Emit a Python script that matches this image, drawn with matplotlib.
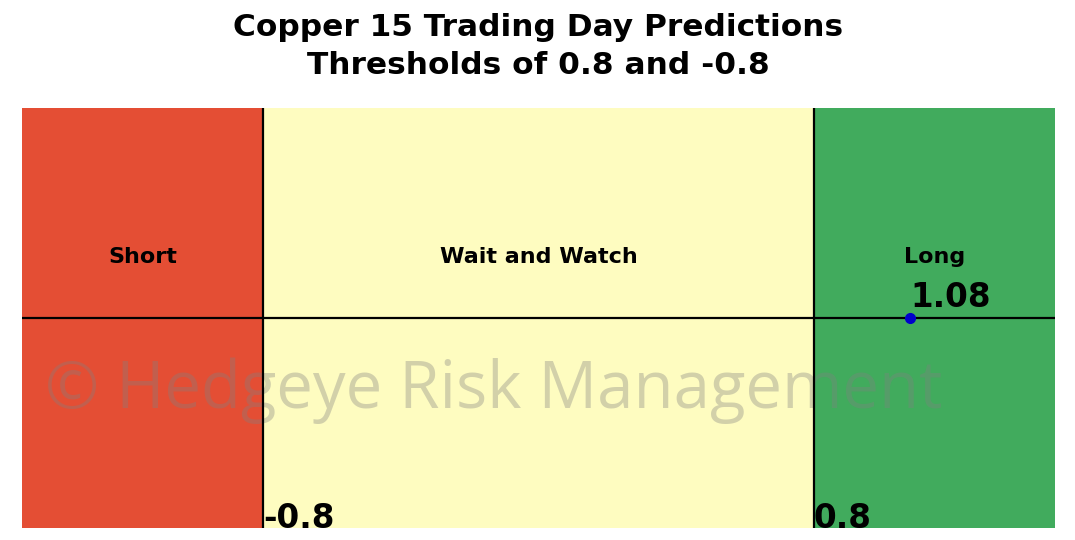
import matplotlib.pyplot as plt

commodity = "Copper"
horizon = 15
prediction = 1.08
lower_threshold = -0.8
upper_threshold = 0.8
x_range = [-1.5, 1.5]
zone_labels = ["Short", "Wait and Watch", "Long"]
zone_colors = ["#E44E34", "#FEFCC0", "#41AB5D"]

fig = plt.figure(figsize=(10.75, 5.4), dpi=100)
ax = fig.add_axes([22 / 1075, 12 / 540, 1033 / 1075, 420 / 540])

edges = [x_range[0], lower_threshold, upper_threshold, x_range[1]]
for i, (label, color) in enumerate(zip(zone_labels, zone_colors)):
    ax.axvspan(edges[i], edges[i + 1], color=color, lw=0)
    centre = (edges[i] + edges[i + 1]) / 2
    ax.text(centre, 0.29, label, ha='center', va='center', fontsize=16, fontweight='bold')

ax.axvline(lower_threshold, color='black', lw=1.6)
ax.axvline(upper_threshold, color='black', lw=1.6)
ax.axhline(0, color='black', lw=1.6)

ax.plot([prediction], [0], 'o', color='#0000CC', markersize=7, zorder=5)
ax.text(prediction, 0.02, f"{prediction:.2f}", ha='left', va='bottom', fontsize=23.5,
        fontweight='bold')

# threshold values sit on the bottom edge and get clipped by it
for t in (lower_threshold, upper_threshold):
    ax.text(t, -1, f"{t}", ha='left', va='baseline', fontsize=23.5, fontweight='bold',
            clip_on=True)

ax.text(0.022, 0.326, "© Hedgeye Risk Management", transform=ax.transAxes,
        ha='left', va='center', fontsize=47, family='Open Sans', color='gray',
        alpha=0.35, zorder=1.5)

ax.set_xlim(x_range)
ax.set_ylim(-1, 1)
ax.axis('off')

fig.text(538 / 1075, 1 - 13 / 540,
         f"{commodity} {horizon} Trading Day Predictions\nThresholds of {upper_threshold} and {lower_threshold}",
         ha='center', va='top', fontsize=22.5, fontweight='bold', linespacing=1.4)

fig.savefig("out.png", dpi=100)
